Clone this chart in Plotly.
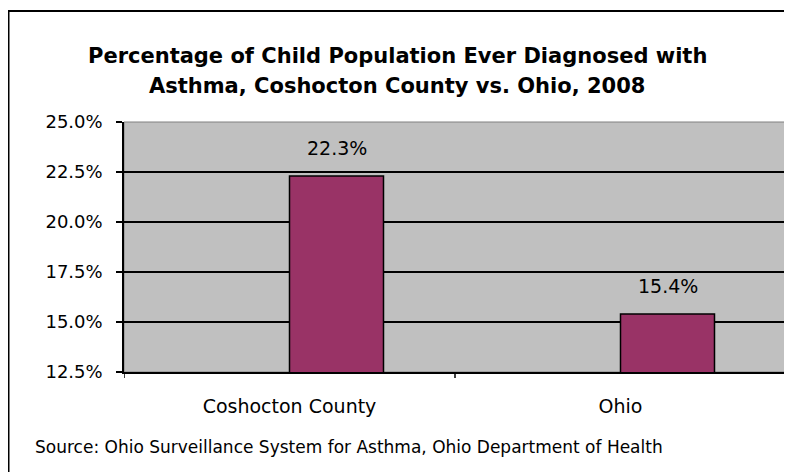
import plotly.graph_objects as go

# chart data
categories = ["Coshocton County", "Ohio"]
pct_values = [22.3, 15.4]
y_ticks = [12.5, 15.0, 17.5, 20.0, 22.5, 25.0]
title_lines = ["Percentage of Child Population Ever Diagnosed with",
               "Asthma, Coshocton County vs. Ohio, 2008"]
source_note = "Source: Ohio Surveillance System for Asthma, Ohio Department of Health"

bar_w = 0.284
font = "DejaVu Sans, Arial, sans-serif"

# page is shifted 8px by the body margin, so the figure is 8px smaller
W, H = 784, 464
PL, PR, PT, PB = 124, 786, 122, 372   # plot area in page pixels


def px_x(p):
    # page pixel -> paper x
    return (p - PL) / (PR - PL)


def px_y(p):
    # page pixel -> paper y
    return (PB - p) / (PB - PT)


fig = go.Figure()
fig.add_trace(go.Bar(
    x=list(range(len(categories))),
    y=pct_values,
    width=bar_w,
    offset=0,
    marker=dict(color="#993366", line=dict(color="black", width=1.5)),
    hoverinfo="skip",
))

for i, v in enumerate(pct_values):
    fig.add_annotation(x=i + bar_w / 2, y=v, xref="x", yref="y",
                       text=f"{v:.1f}%", showarrow=False, yshift=28,
                       font=dict(family=font, size=19, color="black"))

for line, ypix in zip(title_lines, [56, 86]):
    fig.add_annotation(x=px_x(397), y=px_y(ypix), xref="paper", yref="paper",
                       text=f"<b>{line}</b>", showarrow=False,
                       xanchor="center", yanchor="middle",
                       font=dict(family=font, size=21, color="black"))

fig.add_annotation(x=px_x(33), y=px_y(447), xref="paper", yref="paper",
                   text=source_note, showarrow=False, xanchor="left", yanchor="middle",
                   font=dict(family=font, size=17, color="black"))

# plot area border (gray) and outer chart border
fig.add_shape(type="rect", xref="paper", yref="paper", x0=0, x1=1, y0=0, y1=1,
              line=dict(color="#808080", width=1), layer="below")
fig.add_shape(type="rect", xref="paper", yref="paper",
              x0=px_x(8.5), x1=px_x(830), y0=px_y(520), y1=px_y(11),
              line=dict(color="black", width=2))

# category boundary ticks on the x axis
for xb in [-0.5, 0.5, 1.5]:
    fig.add_shape(type="line", xref="x", yref="paper", x0=xb, x1=xb,
                  y0=0, y1=px_y(378), line=dict(color="black", width=1.5))

fig.update_layout(
    width=W, height=H,
    margin=dict(l=PL - 8, r=W + 8 - PR, t=PT - 8, b=H + 8 - PB),
    paper_bgcolor="white",
    plot_bgcolor="#C0C0C0",
    showlegend=False,
    font=dict(family=font, size=19, color="black"),
)
fig.update_xaxes(
    range=[-0.5, 1.5],
    tickmode="array",
    tickvals=list(range(len(categories))),
    ticktext=categories,
    showgrid=False,
    showline=True, linecolor="black", linewidth=1.5,
    ticks="", ticklabelstandoff=16,
    tickfont=dict(family=font, size=19),
    zeroline=False,
)
fig.update_yaxes(
    range=[12.5, 25.0],
    tickmode="array",
    tickvals=y_ticks,
    ticktext=[f"{t:.1f}%" for t in y_ticks],
    showgrid=True, gridcolor="black", gridwidth=1.5,
    showline=True, linecolor="black", linewidth=1.5,
    ticks="outside", ticklen=6, tickcolor="black", tickwidth=1.5,
    ticklabelstandoff=10,
    tickfont=dict(family=font, size=18),
    zeroline=False,
)

fig.write_html("out.html")
